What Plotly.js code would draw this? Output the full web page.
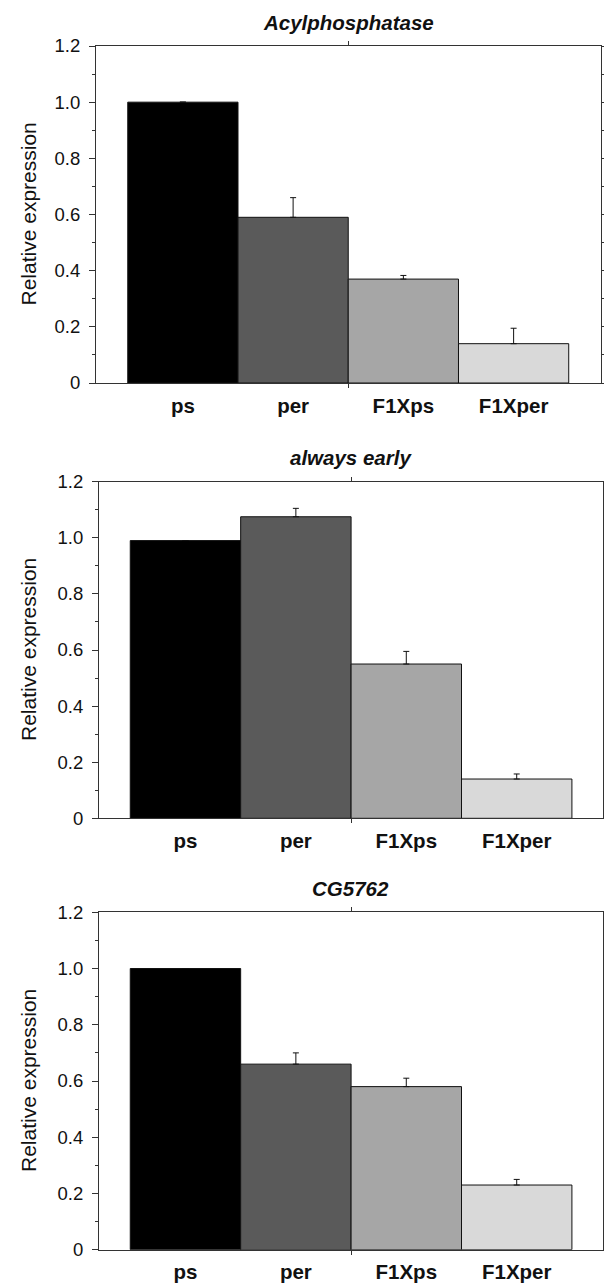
<!DOCTYPE html>
<html>
<head>
<meta charset="utf-8">
<script src="https://cdn.plot.ly/plotly-3.0.1.min.js"></script>
<style>html,body{margin:0;padding:0;background:#fff;}#chart{width:604px;height:1283px;}</style>
</head>
<body>
<div id="chart"></div>
<script>
const categories = ['ps', 'per', 'F1Xps', 'F1Xper'];
const catIndex = [0, 1, 2, 3];
const barColors = ['#000000', '#5a5a5a', '#a6a6a6', '#d9d9d9'];
const panelTitles = ['Acylphosphatase', 'always early', 'CG5762'];
const yTitle = 'Relative expression';

const acylValues = [1.0, 0.59, 0.37, 0.14];
const acylErrors = [0, 0.07, 0.013, 0.055];
const alwaysEarlyValues = [0.99, 1.075, 0.55, 0.14];
const alwaysEarlyErrors = [0, 0.03, 0.045, 0.018];
const cg5762Values = [1.0, 0.66, 0.58, 0.23];
const cg5762Errors = [0, 0.04, 0.03, 0.02];

const yTickVals = [0, 0.2, 0.4, 0.6, 0.8, 1.0, 1.2];
const yTickText = ['0', '0.2', '0.4', '0.6', '0.8', '1.0', '1.2'];

const W = 604, H = 1283;
const FONT = 'Liberation Sans, Arial, Helvetica, sans-serif';
const panels = [
  {vals: acylValues, errs: acylErrors, xl: 95.9, xr: 600.7, yt: 46, yb: 383, mirrorY: 'ticks', xr0: -0.789, xr1: 3.79},
  {vals: alwaysEarlyValues, errs: alwaysEarlyErrors, xl: 99, xr: 602.5, yt: 481.7, yb: 818.3, mirrorY: true, xr0: -0.783, xr1: 3.777},
  {vals: cg5762Values, errs: cg5762Errors, xl: 99, xr: 602.5, yt: 912.3, yb: 1249.7, mirrorY: true, xr0: -0.783, xr1: 3.777}
];

const data = [];
const layout = {
  width: W, height: H,
  margin: {l: 0, r: 0, t: 0, b: 0},
  paper_bgcolor: '#ffffff', plot_bgcolor: '#ffffff',
  showlegend: false,
  bargap: 0,
  font: {family: FONT, color: '#111'},
  annotations: []
};

panels.forEach((p, i) => {
  const n = i === 0 ? '' : String(i + 1);
  data.push({
    type: 'bar',
    x: catIndex,
    y: p.vals,
    width: 1,
    xaxis: 'x' + n, yaxis: 'y' + n,
    marker: {color: barColors, line: {color: '#111', width: 1}},
    error_y: {type: 'data', symmetric: false, array: p.errs, arrayminus: [0, 0, 0, 0], color: '#111', thickness: 1, width: 3},
    hoverinfo: 'skip'
  });
  layout['xaxis' + n] = {
    domain: [p.xl / W, p.xr / W],
    anchor: 'y' + n,
    range: [p.xr0, p.xr1],
    tickvals: catIndex, ticktext: categories,
    ticks: '', showgrid: false, zeroline: false,
    showline: true, linecolor: '#333', linewidth: 1, mirror: 'ticks',
    tickfont: {family: FONT, size: 20.5, weight: 'bold', color: '#111'},
    ticklabelstandoff: 4,
    minor: {tickvals: [1.5], ticks: 'outside', ticklen: 4, tickcolor: '#333', tickwidth: 1, showgrid: false},
    automargin: false, fixedrange: true
  };
  layout['yaxis' + n] = {
    domain: [1 - p.yb / H, 1 - p.yt / H],
    anchor: 'x' + n,
    range: [0, 1.2],
    tickvals: yTickVals, ticktext: yTickText,
    ticks: 'outside', ticklen: 6, tickcolor: '#333', tickwidth: 1,
    minor: {dtick: 0.1, tick0: 0, ticks: 'outside', ticklen: 3, tickcolor: '#333', tickwidth: 1, showgrid: false},
    showgrid: false, zeroline: false,
    showline: true, linecolor: '#333', linewidth: 1, mirror: p.mirrorY,
    tickfont: {family: FONT, size: 18.5, color: '#111'},
    ticklabelstandoff: 5,
    automargin: false, fixedrange: true
  };
  layout.annotations.push({
    text: panelTitles[i], xref: 'paper', yref: 'paper',
    x: (p.xl + p.xr) / 2 / W, y: 1 - (p.yt - 24) / H,
    xanchor: 'center', yanchor: 'middle', showarrow: false,
    font: {family: FONT, size: 20.5, weight: 'bold', style: 'italic', color: '#111'}
  });
  layout.annotations.push({
    text: yTitle, xref: 'paper', yref: 'paper',
    x: 28 / W, y: 1 - (p.yt + p.yb) / 2 / H,
    xanchor: 'center', yanchor: 'middle', textangle: -90, showarrow: false,
    font: {family: FONT, size: 21, color: '#111'}
  });
});

Plotly.newPlot('chart', data, layout, {staticPlot: true, displayModeBar: false});
</script>
</body>
</html>
